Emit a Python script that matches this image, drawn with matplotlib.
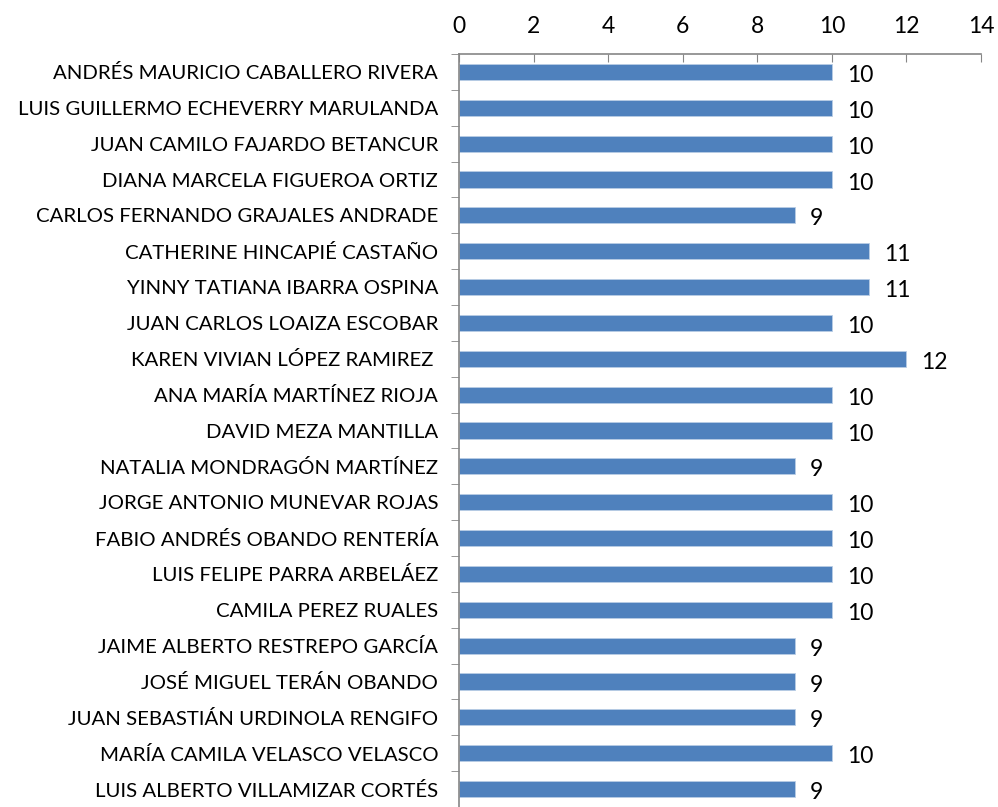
import matplotlib.pyplot as plt
import numpy as np

plt.rcParams['font.family'] = ['Lato', 'DejaVu Sans']

# --- data ---
names = [
    "ANDRÉS MAURICIO CABALLERO RIVERA",
    "LUIS GUILLERMO ECHEVERRY MARULANDA",
    "JUAN CAMILO FAJARDO BETANCUR",
    "DIANA MARCELA FIGUEROA ORTIZ",
    "CARLOS FERNANDO GRAJALES ANDRADE",
    "CATHERINE HINCAPIÉ CASTAÑO",
    "YINNY TATIANA IBARRA OSPINA",
    "JUAN CARLOS LOAIZA ESCOBAR",
    "KAREN VIVIAN LÓPEZ RAMIREZ ",
    "ANA MARÍA MARTÍNEZ RIOJA",
    "DAVID MEZA MANTILLA",
    "NATALIA MONDRAGÓN MARTÍNEZ",
    "JORGE ANTONIO MUNEVAR ROJAS",
    "FABIO ANDRÉS OBANDO RENTERÍA",
    "LUIS FELIPE PARRA ARBELÁEZ",
    "CAMILA PEREZ RUALES",
    "JAIME ALBERTO RESTREPO GARCÍA",
    "JOSÉ MIGUEL TERÁN OBANDO",
    "JUAN SEBASTIÁN URDINOLA RENGIFO",
    "MARÍA CAMILA VELASCO VELASCO",
    "LUIS ALBERTO VILLAMIZAR CORTÉS",
]
scores = [10, 10, 10, 10, 9, 11, 11, 10, 12, 10, 10, 9, 10, 10, 10, 10, 9, 9, 9, 10, 9]
x_ticks = [0, 2, 4, 6, 8, 10, 12, 14]

bar_color = '#4F81BD'
axis_color = '#868686'

fig = plt.figure(figsize=(9.98, 8.07), dpi=100)
ax = fig.add_axes([0.46, 0.0, 0.523, 0.933])

y = np.arange(len(names))
ax.barh(y, scores, height=0.45, color=bar_color, edgecolor='#B9CDE5', linewidth=0.6)

for yi, v in zip(y, scores):
    ax.text(v + 0.4, yi + 0.1, str(v), va='center', ha='left', fontsize=16.5, color='black')

ax.set_xlim(0, 14)
ax.set_ylim(len(names) - 0.5, -0.5)

ax.xaxis.tick_top()
ax.set_xticks(x_ticks)
ax.set_xticklabels([str(t) for t in x_ticks], fontsize=16.5)
ax.tick_params(axis='x', direction='in', length=6, color=axis_color, pad=12)

ax.set_yticks(y)
ax.set_yticklabels(names, fontsize=14.7)
ax.set_yticks(np.arange(len(names) + 1) - 0.5, minor=True)
ax.tick_params(axis='y', which='major', length=0, pad=15)
ax.tick_params(axis='y', which='minor', length=6, color=axis_color, direction='out')

for s in ['right', 'bottom']:
    ax.spines[s].set_visible(False)
for s in ['top', 'left']:
    ax.spines[s].set_color(axis_color)
    ax.spines[s].set_linewidth(1.2)

fig.savefig('out.png', dpi=100)
